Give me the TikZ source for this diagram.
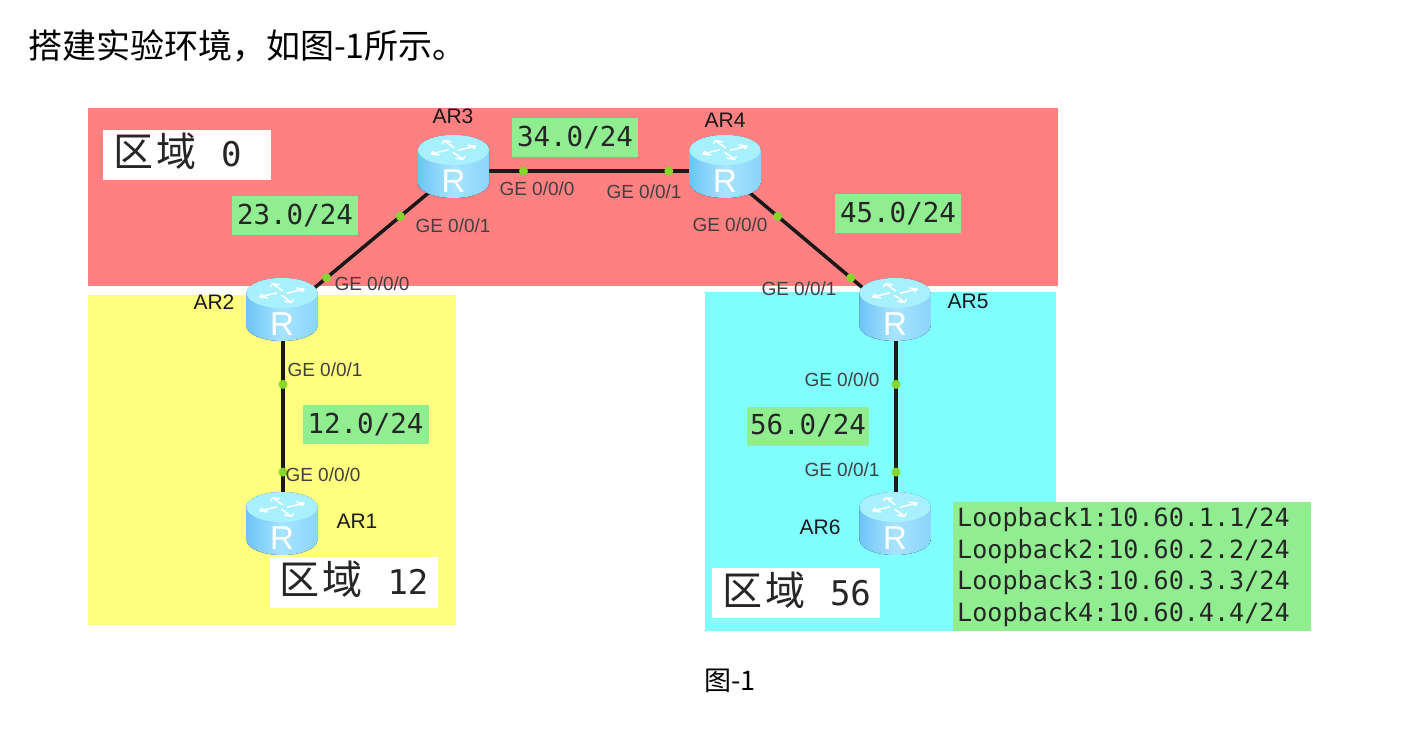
\documentclass[tikz,border=0pt]{standalone}
\usepackage{fontspec}
\setmainfont{Liberation Sans}
\setmonofont{DejaVu Sans Mono}
\newfontfamily\cjk{Noto Sans CJK SC}
\definecolor{zonered}{HTML}{FF8080}
\definecolor{zoneyellow}{HTML}{FFFF80}
\definecolor{zonecyan}{HTML}{80FFFF}
\definecolor{tagrgreen}{HTML}{90EE90}
\definecolor{dotgreen}{HTML}{84D82C}
\definecolor{rtop}{HTML}{A9F0FF}
\definecolor{rleft}{HTML}{6EC4F6}
\definecolor{rmid}{HTML}{A8E4FF}
\definecolor{rright}{HTML}{8AD4FA}
\tikzset{
  zone/.style={anchor=north west,inner sep=0pt,outer sep=0pt},
  tagbox/.style={fill=tagrgreen,inner sep=0pt,minimum width=126pt,minimum height=39pt,font=\fontsize{27.5}{30}\selectfont\ttfamily,text=black!85},
  areabox/.style={fill=white,inner sep=0pt,minimum width=168pt,minimum height=50pt,text height=30pt,text depth=6pt,text=black!85},
  portlabel/.style={inner sep=0pt,font=\fontsize{19}{21}\selectfont,text=black!75},
  routername/.style={inner sep=0pt,font=\fontsize{21}{23}\selectfont,text=black!90},
  routerbox/.style={inner sep=0pt,minimum width=71pt,minimum height=63pt},
  linkline/.style={line width=3.5pt,color=black!90},
  portdot/.style={circle,fill=dotgreen,inner sep=0pt,minimum size=9pt}
}
\newcommand{\zonelabel}[1]{\makebox[148pt][l]{{\fontsize{40}{44}\selectfont\cjk 区\hspace{3pt}域}\hspace{25pt}{\fontsize{34}{36}\selectfont\ttfamily #1}}}
\newcommand{\routerbody}{(-35.5,-16.5) -- (-35.5,16.5) arc[start angle=180,end angle=0,x radius=35.5,y radius=15]
      -- (35.5,-16.5) arc[start angle=0,end angle=-180,x radius=35.5,y radius=15] -- cycle}
% router glyph, centred on a named node
\newcommand{\routerglyph}[1]{%
  \begin{scope}[shift={(#1)}]
    \fill[left color=rleft,right color=rright,middle color=rmid] \routerbody;
    \draw[rright,line width=0.8pt] (35.1,-16.5) -- (35.1,16.5);
    \fill[rtop] (0,-16.5) ellipse[x radius=35.5,y radius=15];
    \begin{scope}[shift={(0,-16.5)},yscale=0.42]
      \foreach \a in {30,120,210,300}{
        \draw[white,line width=1.5pt,rotate=\a]
          (4,3) -- (24,3) (24,3) -- (18,-3) (24,3) -- (18,8);
      }
    \end{scope}
    \node[inner sep=0pt,text=white,font=\fontsize{33}{35}\selectfont] at (0,15) {R};
  \end{scope}}
\begin{document}
\begin{tikzpicture}[x=1pt,y=-1pt]
\useasboundingbox (0,0) rectangle (1419,751);
\fill[white] (0,0) rectangle (1419,751);
\node[zone,fill=zonered,minimum width=970pt,minimum height=178pt] (zone0) at (88,108) {};
\node[zone,fill=zoneyellow,minimum width=368pt,minimum height=330pt] (zone12) at (88,295) {};
\node[zone,fill=zonecyan,minimum width=351pt,minimum height=339pt] (zone56) at (705,292) {};

\node[inner sep=0pt,anchor=west,font=\fontsize{34}{36}\selectfont\cjk] (title) at (28,46) {搭建实验环境，如图-1所示。};
\node[inner sep=0pt,font=\fontsize{27}{30}\selectfont\cjk] (caption) at (730,681) {图-1};

\node[routerbox] (r1) at (282,523.5) {};
\node[routerbox] (r2) at (282,309.5) {};
\node[routerbox] (r3) at (453.5,166.5) {};
\node[routerbox] (r4) at (725,166.5) {};
\node[routerbox] (r5) at (895,309.5) {};
\node[routerbox] (r6) at (895,523.5) {};

\draw[linkline] ([yshift=-5.5pt]r2.center) -- node[portdot,pos=0.26]{} node[portdot,pos=0.69]{} ([yshift=-5.5pt]r3.center);
\draw[linkline] ([yshift=-4.5pt]r3.center) -- node[portdot,pos=0.258]{} node[portdot,pos=0.793]{} ([yshift=-4.5pt]r4.center);
\draw[linkline] ([yshift=-5.5pt]r4.center) -- node[portdot,pos=0.31]{} node[portdot,pos=0.74]{} ([yshift=-5.5pt]r5.center);
\draw[linkline] ([xshift=1pt]r2.center) -- node[portdot,pos=0.35]{} node[portdot,pos=0.76]{} ([xshift=1pt]r1.center);
\draw[linkline] ([xshift=1pt]r5.center) -- node[portdot,pos=0.35]{} node[portdot,pos=0.76]{} ([xshift=1pt]r6.center);

\routerglyph{r1}\routerglyph{r2}\routerglyph{r3}\routerglyph{r4}\routerglyph{r5}\routerglyph{r6}

\node[routername] (n1) at (357,521) {AR1};
\node[routername] (n2) at (214,302) {AR2};
\node[routername] (n3) at (453,116) {AR3};
\node[routername] (n4) at (725,120) {AR4};
\node[routername] (n5) at (968,301) {AR5};
\node[routername] (n6) at (820,527) {AR6};

\node[portlabel] (p1) at (372,284) {GE 0/0/0};
\node[portlabel] (p2) at (325,370) {GE 0/0/1};
\node[portlabel] (p3) at (323,475) {GE 0/0/0};
\node[portlabel] (p4) at (453,226) {GE 0/0/1};
\node[portlabel] (p5) at (537,189) {GE 0/0/0};
\node[portlabel] (p6) at (644,192) {GE 0/0/1};
\node[portlabel] (p7) at (730,225) {GE 0/0/0};
\node[portlabel] (p8) at (799,289) {GE 0/0/1};
\node[portlabel] (p9) at (842,380) {GE 0/0/0};
\node[portlabel] (p10) at (842,470) {GE 0/0/1};

\node[tagbox] (t23) at (295,216) {23.0/24};
\node[tagbox] (t34) at (575,137.5) {34.0/24};
\node[tagbox] (t45) at (898,213.5) {45.0/24};
\node[tagbox] (t12) at (365.5,424.5) {12.0/24};
\node[tagbox,minimum width=122pt] (t56) at (808,426) {56.0/24};

\node[areabox] (a0) at (187,155) {\zonelabel{0}};
\node[areabox,minimum height=51pt] (a12) at (353.5,582.5) {\zonelabel{12}};
\node[areabox] (a56) at (796,593) {\zonelabel{56}};

\node[zone,fill=tagrgreen,minimum width=358pt,minimum height=129pt] (loop) at (953,502) {};
\node[inner sep=0pt,anchor=west,align=left,text=black!85,font=\fontsize{25.1}{31.8}\selectfont\ttfamily] (looptext) at (957,567) {Loopback1:10.60.1.1/24\\Loopback2:10.60.2.2/24\\Loopback3:10.60.3.3/24\\Loopback4:10.60.4.4/24};
\end{tikzpicture}
\end{document}
